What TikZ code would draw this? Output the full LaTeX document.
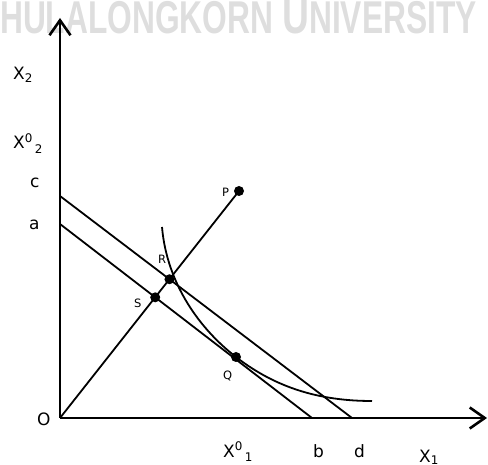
\documentclass[tikz,border=0pt]{standalone}
\usepackage{fontspec}
\setmainfont{DejaVu Sans}
\newfontfamily\wmfont{Liberation Sans}
\usetikzlibrary{arrows.meta}

\begin{document}
\begin{tikzpicture}[x=1pt, y=-1pt, font=\fontsize{17}{20}\selectfont,
  axis/.style={line width=2.6pt, -{Straight Barb[length=15pt,width=21pt]}},
  budget/.style={line width=1.8pt},
  lbl/.style={anchor=base west, inner sep=0pt},
  ptlbl/.style={anchor=base west, inner sep=0pt, font=\fontsize{11.5}{13}\selectfont},
  dot/.style={circle, fill=black, inner sep=0pt, minimum size=10pt}]
  \useasboundingbox (0,0) rectangle (488,465);
  \clip (0,0) rectangle (488,465);
  % watermark
  \node[anchor=base west, inner sep=0pt, text=black!13, xscale=0.69,
        font=\wmfont\bfseries\fontsize{46}{50}\selectfont] (wm) at (0,34)
    {HULALONGKORN {\fontsize{54}{58}\selectfont U}NIVERSITY};
  % axes
  \coordinate (O) at (60,418);
  \coordinate (ytop) at (60,18);
  \coordinate (xend) at (487,418);
  \draw[axis] (O) -- (ytop);
  \draw[axis] (O) -- (xend);
  % budget lines
  \coordinate (c) at (60,196);
  \coordinate (d) at (352,418);
  \coordinate (a) at (60,224);
  \coordinate (b) at (312,418);
  \draw[budget] (c) -- (d);
  \draw[budget] (a) -- (b);
  % ray through P
  \node[dot] (P) at (239,191) {};
  \draw[budget] (O) -- (P.center);
  \coordinate (R) at (intersection of O--P and c--d);
  \coordinate (S) at (intersection of O--P and a--b);
  \node[dot] (Rdot) at (R) {};
  \node[dot] (Sdot) at (S) {};
  % indifference curve
  \node[dot] (Q) at (236,357) {};
  \coordinate (ic1) at (162,227);
  \coordinate (ic2) at (372,401);
  \draw[budget] (ic1) .. controls (167,285) and (201,330) .. (Q.center)
    .. controls (276,388) and (320,401) .. (ic2);
  % labels
  \node[lbl] (lx2) at (13,80) {X\textsubscript{2}};
  \node[lbl] (lx20) at (13,149) {X\textsuperscript{0}\kern2pt\raisebox{-2pt}{\textsubscript{2}}};
  \node[lbl] (lc) at (30,188) {c};
  \node[lbl] (la) at (29,230) {a};
  \node[lbl] (lO) at (37,425) {O};
  \node[lbl] (lx10) at (223,457) {X\textsuperscript{0}\kern2pt\raisebox{-2pt}{\textsubscript{1}}};
  \node[lbl] (lb) at (313,457) {b};
  \node[lbl] (ld) at (354,457) {d};
  \node[lbl] (lx1) at (419,462) {X\textsubscript{1}};
  \node[ptlbl] (lP) at (222,197) {P};
  \node[ptlbl] (lR) at (158,264) {R};
  \node[ptlbl] (lS) at (134,308) {S};
  \node[ptlbl] (lQ) at (223,380) {Q};
\end{tikzpicture}
\end{document}
